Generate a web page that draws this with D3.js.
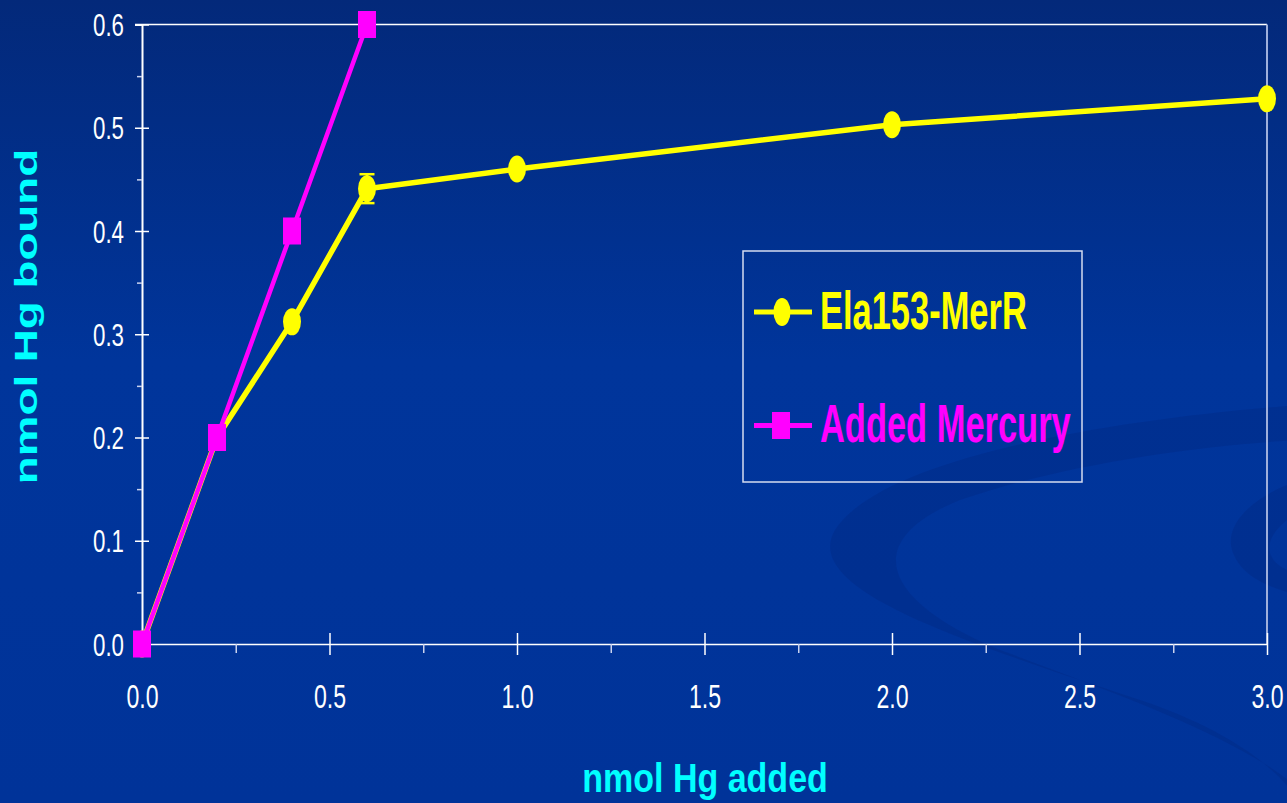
<!DOCTYPE html>
<html>
<head>
<meta charset="utf-8">
<script src="https://cdn.jsdelivr.net/npm/d3@7"></script>
<style>
  html, body { margin: 0; padding: 0; background: #00349a; }
  svg { display: block; }
  text { font-family: "Liberation Sans", Arial, sans-serif; }
</style>
</head>
<body>
<svg id="chart" width="1287" height="803"></svg>
<script>
// data
const hgAdded = [0, 0.2, 0.4, 0.6, 1.0, 2.0, 3.0];
const elaBound = [0, 0.2, 0.312, 0.441, 0.46, 0.503, 0.528];
const elaErr = [0, 0, 0, 0.014, 0, 0, 0];
const mercAdded = [0, 0.2, 0.4, 0.6];
const mercBound = [0, 0.2, 0.4, 0.6];
const seriesNames = ["Ela153-MerR", "Added Mercury"];
const seriesColors = ["#ffff00", "#ff00ff"];
const xMajor = [0, 0.5, 1.0, 1.5, 2.0, 2.5, 3.0];
const xMinor = [0.25, 0.75, 1.25, 1.75, 2.25, 2.75];
const yMajor = [0, 0.1, 0.2, 0.3, 0.4, 0.5, 0.6];
const yMinor = [0.05, 0.15, 0.25, 0.35, 0.45, 0.55];

const svg = d3.select("#chart");
const W = 1287, H = 803;
const plot = {left: 142, right: 1267, top: 24.5, bottom: 644};

// background
const defs = svg.append("defs");
const grad = defs.append("linearGradient").attr("id", "bg").attr("x1", 0).attr("y1", 0).attr("x2", 0).attr("y2", 1);
grad.append("stop").attr("offset", "0%").attr("stop-color", "#03297a");
grad.append("stop").attr("offset", "45%").attr("stop-color", "#00359b");
grad.append("stop").attr("offset", "100%").attr("stop-color", "#003399");
svg.append("rect").attr("width", W).attr("height", H).attr("fill", "url(#bg)");

// swoosh decoration lower right
const deco = svg.append("g").attr("fill", "#002a85").attr("fill-opacity", 0.45);
deco.append("path").attr("fill-rule", "evenodd")
  .attr("d", "M1300,405 C1100,420 880,460 835,530 C800,590 960,640 1140,700 C1230,730 1280,770 1300,803 L1300,790 C1250,745 1150,705 1000,650 C880,600 860,540 960,500 C1060,465 1200,445 1300,440 Z");
deco.append("path")
  .attr("d", "M1287,485 C1250,500 1225,525 1232,550 C1240,575 1265,585 1287,592 L1287,570 C1265,560 1262,540 1287,520 Z");

const x = d3.scaleLinear().domain([0, 3]).range([plot.left, plot.right]);
const y = d3.scaleLinear().domain([0, 0.6]).range([plot.bottom, plot.top]);

const fontFam = '"Liberation Sans", Arial, sans-serif';

// frame: top white, right light
svg.append("line").attr("x1", 135).attr("x2", plot.right).attr("y1", plot.top).attr("y2", plot.top)
  .attr("stroke", "#ffffff").attr("stroke-width", 1.5);
svg.append("line").attr("x1", plot.right).attr("x2", plot.right).attr("y1", plot.top).attr("y2", plot.bottom)
  .attr("stroke", "#9fb0dc").attr("stroke-width", 2);

// y axis
const yAxis = svg.append("g").attr("class", "axis axis-y")
  .attr("transform", `translate(${plot.left},0)`)
  .call(d3.axisLeft(y).tickValues(yMajor).tickSize(7).tickFormat(d3.format(".1f")));
yAxis.select(".domain").attr("stroke", "#fff").attr("stroke-width", 2);
yAxis.selectAll(".tick line").attr("x1", 7).attr("stroke", "#fff").attr("stroke-width", 1.5);
yAxis.selectAll(".tick text")
  .attr("x", null).attr("dy", "0.36em")
  .attr("transform", "translate(-18,0) scale(0.72,1)")
  .attr("fill", "#fff").attr("font-size", 31).attr("font-family", fontFam).attr("text-anchor", "end");

const yMinorAxis = svg.append("g")
  .attr("transform", `translate(${plot.left},0)`)
  .call(d3.axisLeft(y).tickValues(yMinor).tickSize(5).tickFormat(""));
yMinorAxis.select(".domain").remove();
yMinorAxis.selectAll(".tick line").attr("stroke", "#c9d2ee").attr("stroke-width", 1.5);

// x axis
const xAxis = svg.append("g").attr("class", "axis axis-x")
  .attr("transform", `translate(0,${plot.bottom})`)
  .call(d3.axisBottom(x).tickValues(xMajor).tickSize(11).tickSizeOuter(0).tickFormat(d3.format(".1f")));
xAxis.select(".domain").attr("stroke", "#fff").attr("stroke-width", 1.5);
xAxis.selectAll(".tick line").attr("y1", -11).attr("stroke", "#fff").attr("stroke-width", 1.5);
xAxis.selectAll(".tick text")
  .attr("y", null).attr("dy", null)
  .attr("transform", "translate(0,64) scale(0.68,1)")
  .attr("fill", "#fff").attr("font-size", 34).attr("font-family", fontFam).attr("text-anchor", "middle");

const xMinorAxis = svg.append("g")
  .attr("transform", `translate(0,${plot.bottom})`)
  .call(d3.axisBottom(x).tickValues(xMinor).tickSize(9).tickFormat(""));
xMinorAxis.select(".domain").remove();
xMinorAxis.selectAll(".tick line").attr("stroke", "#c9d2ee").attr("stroke-width", 1.5);

// axis titles
svg.append("text")
  .attr("transform", "translate(705,792) scale(0.84,1)")
  .attr("text-anchor", "middle").attr("font-weight", "bold").attr("font-size", 40.5)
  .attr("fill", "#00ffff").text("nmol Hg added");
svg.append("text")
  .attr("transform", "translate(37,316.5) rotate(-90) scale(1.5,1)")
  .attr("text-anchor", "middle").attr("font-weight", "bold").attr("font-size", 30.5)
  .attr("fill", "#00ffff").text("nmol Hg bound");

const line = d3.line().x(d => x(d[0])).y(d => y(d[1]));

// Ela153-MerR series
const ela = hgAdded.map((v, i) => [v, elaBound[i], elaErr[i]]);
const gEla = svg.append("g");
gEla.append("path").datum(ela).attr("d", line)
  .attr("fill", "none").attr("stroke", seriesColors[0]).attr("stroke-width", 5.5).attr("stroke-linejoin", "round");
const errs = gEla.selectAll(".err").data(ela.filter(d => d[2] > 0)).enter().append("g").attr("class", "err")
  .attr("stroke", seriesColors[0]).attr("stroke-width", 2.5);
errs.append("line").attr("x1", d => x(d[0])).attr("x2", d => x(d[0]))
  .attr("y1", d => y(d[1] - d[2])).attr("y2", d => y(d[1] + d[2]));
errs.append("line").attr("x1", d => x(d[0]) - 7.5).attr("x2", d => x(d[0]) + 7.5)
  .attr("y1", d => y(d[1] - d[2])).attr("y2", d => y(d[1] - d[2]));
errs.append("line").attr("x1", d => x(d[0]) - 7.5).attr("x2", d => x(d[0]) + 7.5)
  .attr("y1", d => y(d[1] + d[2])).attr("y2", d => y(d[1] + d[2]));
gEla.selectAll("ellipse").data(ela).enter().append("ellipse")
  .attr("cx", d => x(d[0])).attr("cy", d => y(d[1]))
  .attr("rx", 9).attr("ry", 13.5).attr("fill", seriesColors[0]);

// Added Mercury series
const merc = mercAdded.map((v, i) => [v, mercBound[i]]);
const gMerc = svg.append("g");
gMerc.append("path").datum(merc).attr("d", line)
  .attr("fill", "none").attr("stroke", seriesColors[1]).attr("stroke-width", 4.5);
gMerc.selectAll("rect").data(merc).enter().append("rect")
  .attr("x", d => x(d[0]) - 9).attr("y", d => y(d[1]) - 13.5)
  .attr("width", 18).attr("height", 27).attr("fill", seriesColors[1]);

// legend
const legend = svg.append("g").attr("id", "legend");
legend.append("rect").attr("x", 743).attr("y", 251).attr("width", 339).attr("height", 231)
  .attr("fill", "none").attr("stroke", "#d5dcf0").attr("stroke-width", 1.5);
const rowY = [312, 425.5];
seriesNames.forEach((name, i) => {
  const row = legend.append("g").attr("transform", `translate(0,${rowY[i]})`);
  row.append("line").attr("x1", 754).attr("x2", 812).attr("y1", 0).attr("y2", 0)
    .attr("stroke", seriesColors[i]).attr("stroke-width", 5);
  if (i === 0) {
    row.append("ellipse").attr("cx", 782).attr("cy", 0).attr("rx", 8.5).attr("ry", 14).attr("fill", seriesColors[i]);
  } else {
    row.append("rect").attr("x", 772).attr("y", -13.5).attr("width", 18).attr("height", 27).attr("fill", seriesColors[i]);
  }
  row.append("text")
    .attr("transform", "translate(820,16.5) scale(0.65,1)")
    .attr("font-weight", "bold").attr("font-size", 53)
    .attr("fill", seriesColors[i]).text(name);
});
</script>
</body>
</html>
